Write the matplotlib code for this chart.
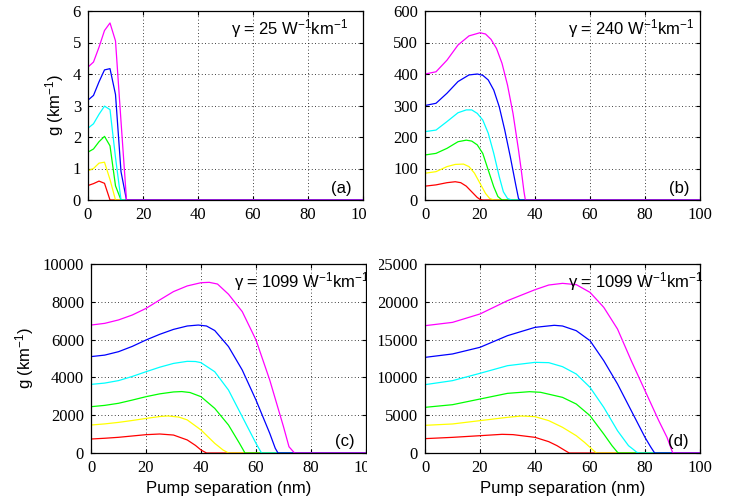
import numpy as np
import matplotlib
matplotlib.use("Agg")
import matplotlib.pyplot as plt
from matplotlib.patches import Rectangle

# tick numbers are serif, the other texts sans
plt.rcParams['font.family'] = 'Liberation Serif'
plt.rcParams['mathtext.fontset'] = 'custom'
plt.rcParams['mathtext.rm'] = 'Liberation Sans'
plt.rcParams['mathtext.it'] = 'Liberation Sans:italic'
SANS = 'Liberation Sans'

colors = ['#ff0000', '#ffff00', '#00ff00', '#00ffff', '#0000ff', '#ff00ff']

# panel (a): gamma = 25
x_a = [0, 2, 4, 6, 8, 10, 12, 14, 100]
g_a = [
    [0.46, 0.52, 0.60, 0.53, 0, 0, 0, 0, 0],
    [0.93, 1.00, 1.17, 1.20, 0.65, 0, 0, 0, 0],
    [1.52, 1.62, 1.85, 2.02, 1.72, 0.45, 0, 0, 0],
    [2.28, 2.42, 2.72, 2.98, 2.87, 1.35, 0, 0, 0],
    [3.17, 3.32, 3.75, 4.13, 4.17, 3.35, 0.90, 0, 0],
    [4.22, 4.38, 4.85, 5.38, 5.62, 5.05, 2.50, 0, 0],
]

# panel (b): gamma = 240
x_b = [
    [0, 4, 8, 11, 13, 15, 17, 19, 20, 21, 100],
    [0, 4, 8, 11, 14, 16, 18, 20, 22, 23.5, 25, 100],
    [0, 4, 8, 12, 15, 17, 19, 21, 23, 25, 26.5, 28, 100],
    [0, 4, 8, 12, 15, 17, 19, 21, 23, 25, 27, 28.5, 30, 31.5, 100],
    [0, 4, 8, 12, 16, 19, 21, 23, 25, 27, 29, 31, 33, 34, 34.5, 100],
    [0, 4, 8, 12, 16, 20, 22, 24, 26, 28, 30, 32, 34, 35, 36, 36.5, 100],
]
g_b = [
    [44, 48, 55, 58, 55, 44, 26, 8, 2, 0, 0],
    [85, 90, 106, 113, 114, 106, 85, 53, 21, 5, 0, 0],
    [143, 148, 164, 185, 190, 187, 175, 148, 95, 42, 11, 0, 0],
    [217, 222, 249, 277, 286, 286, 275, 254, 212, 148, 74, 26, 5, 0, 0],
    [300, 307, 339, 376, 397, 400, 396, 381, 349, 296, 222, 138, 48, 5, 0, 0],
    [400, 407, 444, 492, 521, 531, 527, 510, 481, 434, 365, 275, 159, 95, 26, 0, 0],
]

# panel (c): gamma = 1099
x_c = [
    [0, 5, 10, 15, 20, 25, 30, 35, 38, 40, 42, 100],
    [0, 5, 10, 15, 20, 25, 28, 32, 35, 40, 45, 48, 50, 100],
    [0, 5, 10, 15, 20, 25, 30, 33, 36, 40, 45, 50, 54, 56, 100],
    [0, 5, 10, 15, 20, 25, 30, 35, 38, 40, 45, 50, 55, 60, 62, 100],
    [0, 5, 10, 15, 20, 25, 30, 35, 39, 42, 45, 50, 55, 60, 65, 67, 68, 100],
    [0, 5, 10, 15, 20, 25, 30, 35, 40, 43, 46, 50, 55, 60, 65, 70, 72, 74, 100],
]
g_c = [
    [740, 780, 830, 900, 970, 1005, 950, 690, 400, 160, 0, 0],
    [1480, 1540, 1620, 1720, 1830, 1930, 1960, 1900, 1750, 1220, 510, 160, 0, 0],
    [2450, 2520, 2630, 2800, 2980, 3130, 3230, 3250, 3200, 2980, 2360, 1480, 510, 0, 0],
    [3630, 3700, 3830, 4050, 4300, 4540, 4740, 4850, 4840, 4780, 4300, 3330, 1920, 510, 0, 0],
    [5100, 5180, 5360, 5640, 5980, 6280, 6540, 6720, 6770, 6720, 6480, 5630, 4390, 2800, 1040, 250, 0, 0],
    [6770, 6860, 7040, 7300, 7650, 8100, 8540, 8840, 9010, 9030, 8940, 8400, 7480, 5980, 3860, 1390, 330, 0, 0],
]

# panel (d): gamma = 1099
x_d = [
    [0, 10, 20, 28, 32, 40, 45, 48, 50, 52, 52.5, 100],
    [0, 10, 20, 30, 35, 40, 45, 50, 55, 58, 60, 62, 62.5, 100],
    [0, 10, 20, 30, 38, 42, 50, 55, 60, 65, 68, 70, 70.5, 100],
    [0, 10, 20, 30, 40, 45, 50, 55, 60, 65, 70, 74, 76, 77, 78, 100],
    [0, 10, 20, 30, 40, 47, 50, 55, 60, 65, 70, 75, 80, 82, 83.5, 100],
    [0, 10, 20, 30, 40, 45, 50, 55, 60, 65, 70, 75, 80, 85, 88, 90, 90.5, 100],
]
g_d = [
    [1900, 2070, 2290, 2470, 2430, 2070, 1500, 970, 530, 90, 0, 0],
    [3660, 3840, 4280, 4720, 4890, 4810, 4280, 3400, 2290, 1410, 750, 90, 0, 0],
    [6040, 6390, 7140, 7890, 8110, 8030, 7360, 6480, 4940, 2510, 970, 90, 0, 0],
    [9040, 9570, 10540, 11550, 11990, 11950, 11420, 10450, 8690, 6040, 2950, 970, 400, 90, 0, 0],
    [12650, 13100, 13980, 15520, 16620, 16890, 16800, 16180, 14860, 12210, 9130, 5600, 2070, 840, 0, 0],
    [16840, 17280, 18390, 20150, 21600, 22220, 22440, 22270, 21250, 19270, 16400, 12210, 8250, 4280, 2070, 90, 0, 0],
]

gamma_labels = ['γ = 25 W$^{-1}$km$^{-1}$', 'γ = 240 W$^{-1}$km$^{-1}$',
                'γ = 1099 W$^{-1}$km$^{-1}$', 'γ = 1099 W$^{-1}$km$^{-1}$']
panel_labels = ['(a)', '(b)', '(c)', '(d)']
y_limits = [6, 600, 10000, 25000]
y_steps = [1, 100, 2000, 5000]

fig = plt.figure(figsize=(7.38, 5.0), dpi=100)
positions = [
    [88 / 738, 0.6, 275 / 738, 0.378],
    [425 / 738, 0.6, 275 / 738, 0.378],
    [91 / 738, 0.094, 275 / 738, 0.378],
    [425 / 738, 0.094, 275 / 738, 0.378],
]

for i in range(4):
    ax = fig.add_axes(positions[i])
    if i == 0:
        xs = [x_a] * 6
        ys = g_a
    elif i == 1:
        xs, ys = x_b, g_b
    elif i == 2:
        xs, ys = x_c, g_c
    else:
        xs, ys = x_d, g_d
    for k in range(6):
        ax.plot(xs[k], ys[k], color=colors[k], linewidth=0.9)

    ax.set_xlim(0, 100)
    ax.set_ylim(0, y_limits[i])
    ax.set_xticks(np.arange(0, 101, 20))
    ax.set_yticks(np.arange(0, y_limits[i] + 1, y_steps[i]))
    ax.grid(True, color='black', linestyle=(0, (1, 3)), linewidth=0.6)
    ax.tick_params(direction='in', length=3, top=True, right=True, labelsize=12, pad=5)
    for sp in ax.spines.values():
        sp.set_linewidth(0.9)

    ax.text(0.52, 0.905, gamma_labels[i], transform=ax.transAxes,
            ha='left', va='center', fontsize=12, family=SANS)
    ax.text(0.96, 0.063, panel_labels[i], transform=ax.transAxes,
            ha='right', va='center', fontsize=12, family=SANS)

    if i in (0, 2):
        ax.set_ylabel('g (km$^{-1}$)', fontsize=12, labelpad=5, family=SANS)
    if i in (2, 3):
        ax.set_xlabel('Pump separation (nm)', fontsize=12, labelpad=4, family=SANS)

# white strip covering the right edge of the left panels
fig.add_artist(Rectangle((367 / 738, 0), 12 / 738, 1, transform=fig.transFigure,
                         facecolor='white', edgecolor='none', zorder=5))

fig.savefig('out.png', dpi=100)
